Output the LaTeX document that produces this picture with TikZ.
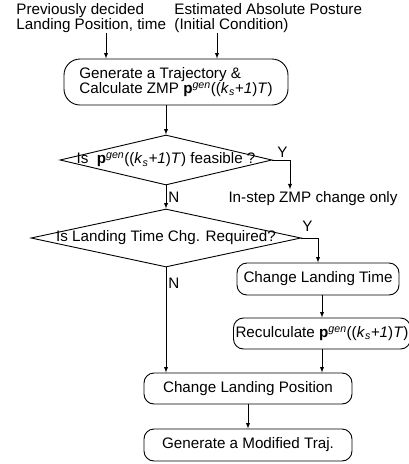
\documentclass[tikz,border=0pt]{standalone}
\usepackage{fontspec}
\setmainfont{Liberation Sans}
\usetikzlibrary{positioning}
\usetikzlibrary{shapes.geometric}
\newcommand{\pgen}{\textbf{p}\textsuperscript{\textit{gen}}((\textit{k}\textsubscript{\textit{s}}\textit{+1})\textit{T})}
\tikzset{
	proc/.style={draw, rectangle, rounded corners=10pt, inner sep=2pt, minimum width=208pt, minimum height=31pt},
	decision/.style={draw, diamond, inner sep=0pt},
	% plain text, no frame
	note/.style={align=left, inner sep=0pt},
	yn/.style={inner sep=2pt},
}

\begin{document}
\begin{tikzpicture}[x=1pt, y=-1pt, font=\fontsize{15.2pt}{15pt}\selectfont, line width=0.9pt]
	\useasboundingbox (0,0) rectangle (408,464);

	\node (prev) [note, anchor=north west] at (16,3) {Previously decided\\Landing Position, time};
	\node (est) [note, anchor=north west] at (174,3) {Estimated Absolute Posture\\(Initial Condition)};

	\node (gen) [proc, rounded corners=16pt, minimum width=224pt, minimum height=46pt, align=left,
		font=\fontsize{15.2pt}{13pt}\selectfont] at (176,82) {Generate a Trajectory \&\\Calculate ZMP \pgen};

	\node (feas) [decision, minimum width=212pt, minimum height=50pt] at (166,160) {};
	\node (feastxt) at (feas) {Is\ \ \pgen{} feasible ?};
	\node (instep) [inner sep=2pt] at (313,199) {In-step ZMP change only};

	\node (ltq) [decision, minimum width=270pt, minimum height=58pt, below of=feas, node distance=78pt] {};
	\node (ltqtxt) at (ltq) {Is Landing Time Chg. Required?};

	\node (chtime) [proc, minimum width=162pt, minimum height=32pt] at (318,279) {Change Landing Time};
	\node (recalc) [proc, minimum width=162pt, below of=chtime, node distance=54.5pt, xshift=4pt] {Reculculate \pgen};

	\node (chpos) [proc] at (248,388.5) {Change Landing Position};
	\node (modtraj) [proc, minimum height=32pt, below of=chpos, node distance=56.5pt] {Generate a Modified Traj.};

	\begin{scope}[->, >=latex]
		\draw ([xshift=90pt]prev.south west) -- ([xshift=90pt]prev.south west |- gen.north);
		\draw ([xshift=43pt]est.south west) -- ([xshift=43pt]est.south west |- gen.north);
		\draw (feas.north |- gen.south) -- (feas.north);

		\draw (feas.east) -| ([xshift=-23pt]instep.north) node [pos=0.5, yn, anchor=south east] {Y};
		\draw (feas.south) -- (ltq.north) node [midway, right, yn] {N};

		\draw (ltq.east) -| (chtime.north) node [pos=0.5, yn, anchor=south east, xshift=-3pt, yshift=4pt] {Y};
		\draw (ltq.south) -- (ltq.south |- chpos.north) node [pos=0.15, right, yn] {N};

		\draw (recalc.north |- chtime.south) -- (recalc.north);
		\draw (recalc.south) -- (recalc.south |- chpos.north);
		\draw (chpos.south) -- (modtraj.north);
	\end{scope}
\end{tikzpicture}
\end{document}
